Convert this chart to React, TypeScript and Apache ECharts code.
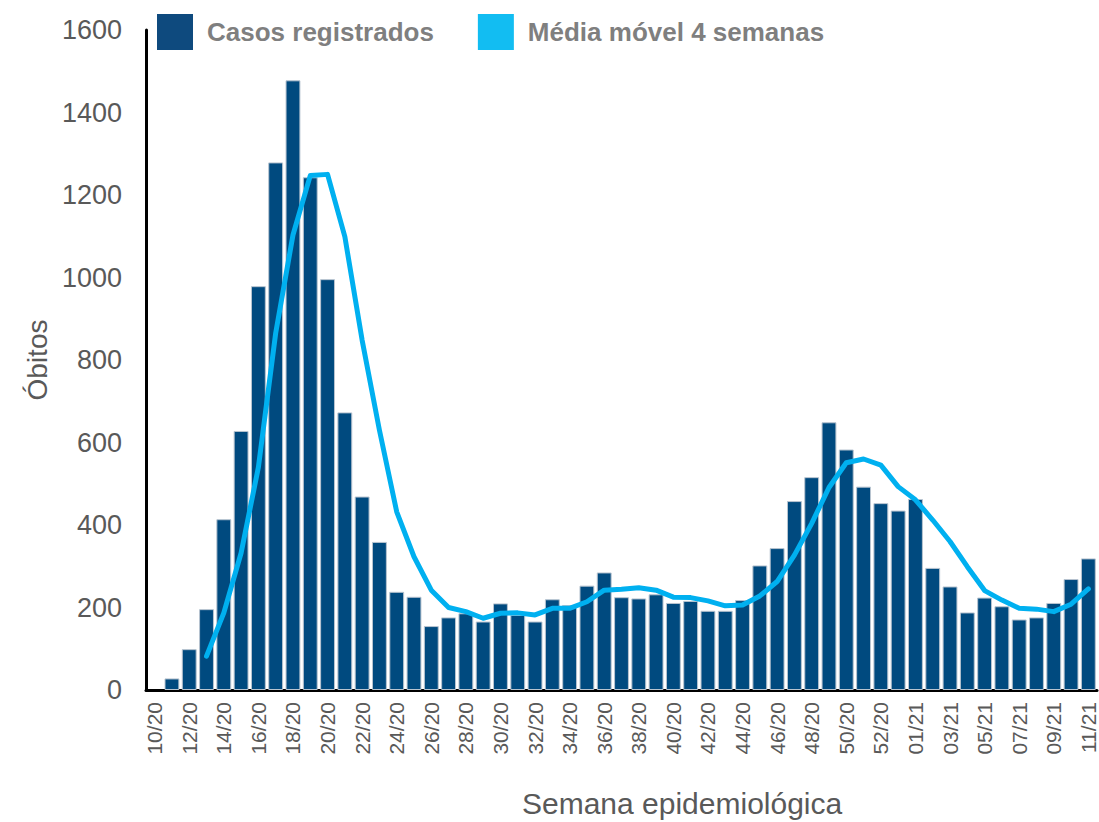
import React, { useEffect, useRef } from "react";
import * as echarts from "echarts";

const weeks: string[] = [
  "10/20", "11/20", "12/20", "13/20", "14/20", "15/20", "16/20", "17/20", "18/20", "19/20",
  "20/20", "21/20", "22/20", "23/20", "24/20", "25/20", "26/20", "27/20", "28/20", "29/20",
  "30/20", "31/20", "32/20", "33/20", "34/20", "35/20", "36/20", "37/20", "38/20", "39/20",
  "40/20", "41/20", "42/20", "43/20", "44/20", "45/20", "46/20", "47/20", "48/20", "49/20",
  "50/20", "51/20", "52/20", "53/20", "01/21", "02/21", "03/21", "04/21", "05/21", "06/21",
  "07/21", "08/21", "09/21", "10/21", "11/21",
];

const casosRegistrados: (number | null)[] = [
  null, 28, 99, 196, 414, 628, 979, 1279, 1478, 1243,
  996, 673, 469, 359, 238, 226, 155, 176, 186, 166,
  210, 182, 166, 220, 206, 253, 285, 225, 222, 232,
  211, 216, 192, 192, 218, 302, 344, 458, 516, 649,
  583, 493, 453, 435, 463, 296, 251, 188, 224, 203,
  171, 176, 211, 269, 319,
];

const mediaMovel: (number | null)[] = [
  null, null, null, 82, 187, 332, 540, 865, 1103, 1247,
  1250, 1099, 848, 630, 432, 323, 242, 200, 190, 174,
  186, 187, 182, 198, 198, 214, 242, 244, 248, 242,
  225, 224, 216, 204, 206, 228, 263, 327, 404, 491,
  551, 560, 545, 493, 461, 412, 360, 299, 241, 218,
  198, 196, 190, 208, 245,
];

const yTicks = { min: 0, max: 1600, interval: 200 };

const FONT = "Liberation Sans, Arial, sans-serif";

export default function App() {
  const ref = useRef<HTMLDivElement>(null);

  useEffect(() => {
    if (!ref.current) return;
    const chart = echarts.init(ref.current, undefined, { renderer: "svg" });
    chart.setOption({
      animation: false,
      backgroundColor: "#ffffff",
      textStyle: { fontFamily: FONT },
      legend: {
        left: 152,
        top: 9,
        itemWidth: 36,
        itemHeight: 36,
        itemGap: 44,
        icon: "rect",
        textStyle: {
          color: "#7F7F7F",
          fontWeight: "bold",
          fontSize: 26,
          padding: [0, 0, 0, 9],
        },
        data: [
          { name: "Casos registrados", itemStyle: { color: "#0E4A7E", borderWidth: 0 } },
          { name: "Média móvel 4 semanas", itemStyle: { color: "#12BDF2", borderWidth: 0 } },
        ],
      },
      grid: { left: 146, right: 2, top: 30, bottom: 132, containLabel: false },
      xAxis: {
        type: "category",
        data: weeks,
        axisLine: { show: true, lineStyle: { color: "#000000", width: 3 } },
        axisTick: { show: false },
        axisLabel: {
          interval: 1,
          rotate: 90,
          color: "#595959",
          fontSize: 21,
          margin: 12,
        },
      },
      yAxis: {
        type: "value",
        min: yTicks.min,
        max: yTicks.max,
        interval: yTicks.interval,
        name: "Óbitos",
        nameLocation: "middle",
        nameGap: 88,
        nameTextStyle: { color: "#595959", fontSize: 28 },
        axisLine: { show: true, lineStyle: { color: "#000000", width: 3 } },
        axisTick: { show: false },
        splitLine: { show: false },
        axisLabel: {
          color: "#595959",
          fontSize: 27,
          margin: 24,
          formatter: (v: number) => String(v),
        },
      },
      graphic: [
        {
          type: "text",
          left: 522,
          top: 788,
          style: {
            text: "Semana epidemiológica",
            fill: "#595959",
            font: "30px " + FONT,
          },
        },
      ],
      series: [
        {
          name: "Casos registrados",
          type: "bar",
          data: casosRegistrados,
          barCategoryGap: "14%",
          itemStyle: { color: "#004A7F", borderColor: "#B8C4D0", borderWidth: 1 },
        },
        {
          name: "Média móvel 4 semanas",
          type: "line",
          data: mediaMovel,
          smooth: false,
          showSymbol: false,
          symbol: "none",
          connectNulls: false,
          lineStyle: { color: "#00B0F0", width: 5, cap: "round", join: "round" },
          itemStyle: { color: "#00B0F0" },
        },
      ],
    });
    return () => chart.dispose();
  }, []);

  return <div ref={ref} style={{ width: 1099, height: 822, position: "absolute", left: 0, top: 0 }} />;
}
